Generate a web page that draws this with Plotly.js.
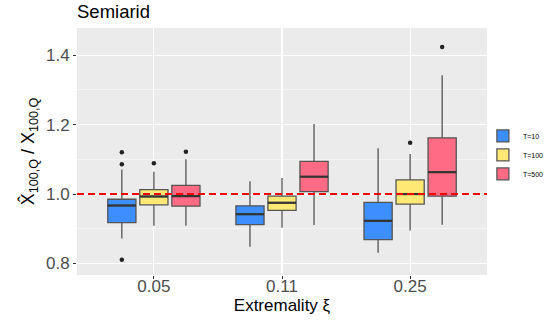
<!DOCTYPE html>
<html>
<head>
<meta charset="utf-8">
<script src="https://cdn.plot.ly/plotly-3.0.1.min.js"></script>
<style>html,body{margin:0;padding:0;background:#fff;}#chart{width:550px;height:322px;}</style>
</head>
<body>
<div id="chart"></div>
<script>
// Categories (extremality xi) and series
const categories = ['0.05', '0.11', '0.25'];
const seriesNames = ['T=10', 'T=100', 'T=500'];
const seriesColors = ['#3D8EFF', '#FFE873', '#FF6B85'];

// Box statistics per series, one value per category
const q1 = {
  'T=10':  [0.918, 0.912, 0.869],
  'T=100': [0.969, 0.953, 0.971],
  'T=500': [0.965, 1.007, 0.994]
};
const median = {
  'T=10':  [0.967, 0.942, 0.923],
  'T=100': [0.993, 0.975, 1.000],
  'T=500': [0.994, 1.050, 1.063]
};
const q3 = {
  'T=10':  [0.985, 0.966, 0.976],
  'T=100': [1.013, 0.994, 1.041],
  'T=500': [1.025, 1.094, 1.162]
};
const lowerFence = {
  'T=10':  [0.872, 0.848, 0.831],
  'T=100': [0.909, 0.903, 0.895],
  'T=500': [0.909, 0.911, 0.912]
};
const upperFence = {
  'T=10':  [1.071, 1.037, 1.132],
  'T=100': [1.064, 1.046, 1.115],
  'T=500': [1.100, 1.202, 1.342]
};
// Outliers: [categoryIndex, value]
const outliers = {
  'T=10':  [[0, 1.120], [0, 1.086], [0, 0.811]],
  'T=100': [[0, 1.089], [2, 1.148]],
  'T=500': [[0, 1.122], [2, 1.423]]
};
const referenceValue = 1.0;

const dodge = 0.25, boxWidth = 0.22;
const traces = [];
seriesNames.forEach((s, i) => {
  const off = (i - 1) * dodge;
  traces.push({
    type: 'box',
    name: s,
    x: categories.map((c, k) => k + off),
    q1: q1[s], median: median[s], q3: q3[s],
    lowerfence: lowerFence[s], upperfence: upperFence[s],
    width: boxWidth,
    boxpoints: false,
    fillcolor: seriesColors[i],
    line: {color: '#555555', width: 1.3},
    whiskerwidth: 0,
    hoverinfo: 'skip',
    showlegend: true
  });
});
// thicker median segments (ggplot style)
seriesNames.forEach((s, i) => {
  const off = (i - 1) * dodge;
  const xs = [], ys = [];
  categories.forEach((c, k) => {
    xs.push(k + off - boxWidth / 2, k + off + boxWidth / 2, null);
    ys.push(median[s][k], median[s][k], null);
  });
  traces.push({
    type: 'scatter', mode: 'lines', x: xs, y: ys,
    line: {color: '#333333', width: 2.2},
    showlegend: false, hoverinfo: 'skip'
  });
});
seriesNames.forEach((s, i) => {
  const off = (i - 1) * dodge;
  traces.push({
    type: 'scatter', mode: 'markers',
    x: outliers[s].map(o => o[0] + off),
    y: outliers[s].map(o => o[1]),
    marker: {color: '#222', size: 4.5},
    showlegend: false, hoverinfo: 'skip'
  });
});

const layout = {
  width: 550, height: 322,
  margin: {l: 77, r: 63, t: 28, b: 47, autoexpand: false},
  paper_bgcolor: '#ffffff',
  plot_bgcolor: '#EBEBEB',
  font: {family: 'Liberation Sans, Arial, sans-serif', color: '#000'},
  title: {text: 'Semiarid', x: 77/550, xanchor: 'left', xref: 'container', y: 0.985, yanchor: 'top',
          font: {size: 18.5, color: '#000'}},
  showlegend: true,
  legend: {x: 0.99, xanchor: 'left', y: 0.486, yanchor: 'middle', font: {size: 7, color: '#000'},
           bgcolor: 'rgba(0,0,0,0)', tracegroupgap: 0, itemwidth: 30},
  xaxis: {
    range: [-0.6, 2.6],
    tickvals: categories.map((c, k) => k),
    ticktext: categories,
    showgrid: true, gridcolor: '#ffffff', gridwidth: 1.1,
    zeroline: false, showline: false,
    ticks: 'outside', ticklen: 3, tickcolor: '#333', tickwidth: 1,
    ticklabelstandoff: -7,
    tickfont: {size: 17, color: '#4D4D4D'},
    title: {text: 'Extremality ξ', font: {size: 17, color: '#000'}, standoff: 0}
  },
  yaxis: {
    range: [0.767, 1.478],
    tickvals: [0.8, 1.0, 1.2, 1.4],
    ticktext: ['0.8', '1.0', '1.2', '1.4'],
    showgrid: true, gridcolor: '#ffffff', gridwidth: 1.1,
    minor: {tickvals: [0.9, 1.1, 1.3], showgrid: true, gridcolor: '#ffffff', gridwidth: 0.5, ticks: ''},
    zeroline: false, showline: false,
    ticks: 'outside', ticklen: 3, tickcolor: '#333', tickwidth: 1,
    tickfont: {size: 17, color: '#4D4D4D'},
    title: {text: 'X\u0302<sub>100,Q</sub> / X<sub>100,Q</sub>', font: {size: 18, color: '#000'}, standoff: 6}
  },
  shapes: [{
    type: 'line', xref: 'paper', x0: 0, x1: 1, yref: 'y', y0: referenceValue, y1: referenceValue,
    line: {color: '#FF0000', width: 2, dash: '7px,4px'}, layer: 'above'
  }]
};

Plotly.newPlot('chart', traces, layout, {displayModeBar: false, staticPlot: true});
</script>
</body>
</html>
